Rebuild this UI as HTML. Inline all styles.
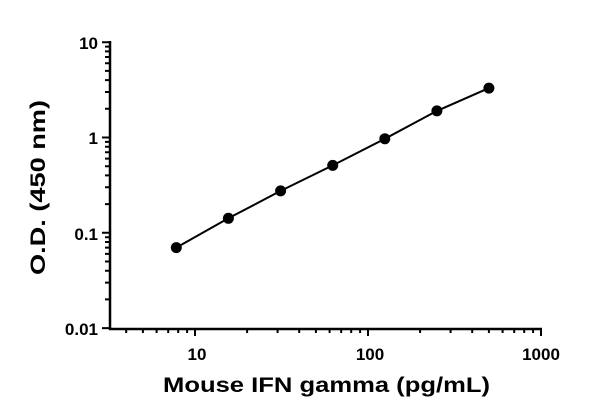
<!DOCTYPE html>
<html><head><style>body{margin:0;background:#fff}svg{display:block}</style></head><body>
<svg width="600" height="417" xmlns="http://www.w3.org/2000/svg">
<g stroke="#000" stroke-width="2.5" fill="none">
<line x1="110" y1="41" x2="110" y2="330"/>
<line x1="109" y1="329" x2="542" y2="329"/>
</g>
<g stroke="#000" stroke-width="2" fill="none">
<path d="M102,328.1H110M102,232.8H110M102,137.5H110M102,42.2H110"/>
<path d="M105,299.4H110M105,282.6H110M105,270.7H110M105,261.5H110M105,253.9H110M105,247.6H110M105,242H110M105,237.2H110
M105,204.1H110M105,187.3H110M105,175.4H110M105,166.2H110M105,158.6H110M105,152.3H110M105,146.7H110M105,141.9H110
M105,108.8H110M105,92H110M105,80.1H110M105,70.9H110M105,63.3H110M105,57H110M105,51.4H110M105,46.6H110"/>
<path d="M195,329V336M368,329V336M541,329V336"/>
<path d="M126.2,329V333M142.9,329V333M156.6,329V333M168.2,329V333M178.2,329V333M187.1,329V333
M247.1,329V333M277.6,329V333M299.2,329V333M315.9,329V333M329.6,329V333M341.2,329V333M351.2,329V333M360.1,329V333
M420.1,329V333M450.6,329V333M472.2,329V333M488.9,329V333M502.6,329V333M514.2,329V333M524.2,329V333M533.1,329V333"/>
</g>
<g font-family="Liberation Sans, sans-serif" font-weight="bold" font-size="17" text-anchor="end" fill="#000">
<text x="98" y="49">10</text>
<text x="98" y="144">1</text>
<text x="98" y="240">0.1</text>
<text x="98" y="335">0.01</text>
</g>
<g font-family="Liberation Sans, sans-serif" font-weight="bold" font-size="17" text-anchor="middle" fill="#000">
<text x="197" y="360">10</text>
<text x="370" y="360">100</text>
<text x="541" y="360">1000</text>
</g>
<text x="163" y="392" textLength="327" lengthAdjust="spacingAndGlyphs" font-family="Liberation Sans, sans-serif" font-weight="bold" font-size="21">Mouse IFN gamma (pg/mL)</text>
<text transform="translate(45,275) rotate(-90)" textLength="175" lengthAdjust="spacingAndGlyphs" font-family="Liberation Sans, sans-serif" font-weight="bold" font-size="21">O.D. (450 nm)</text>
<path d="M176.3,247.6L228.4,218.3L280.6,190.9L332.7,165.4L384.8,138.8L436.9,110.9L488.9,88.1" stroke="#000" stroke-width="2" fill="none"/>
<g fill="#000">
<circle cx="176.3" cy="247.6" r="5.5"/>
<circle cx="228.4" cy="218.3" r="5.5"/>
<circle cx="280.6" cy="190.9" r="5.5"/>
<circle cx="332.7" cy="165.4" r="5.5"/>
<circle cx="384.8" cy="138.8" r="5.5"/>
<circle cx="436.9" cy="110.9" r="5.5"/>
<circle cx="488.9" cy="88.1" r="5.5"/>
</g>
</svg>
</body></html>
